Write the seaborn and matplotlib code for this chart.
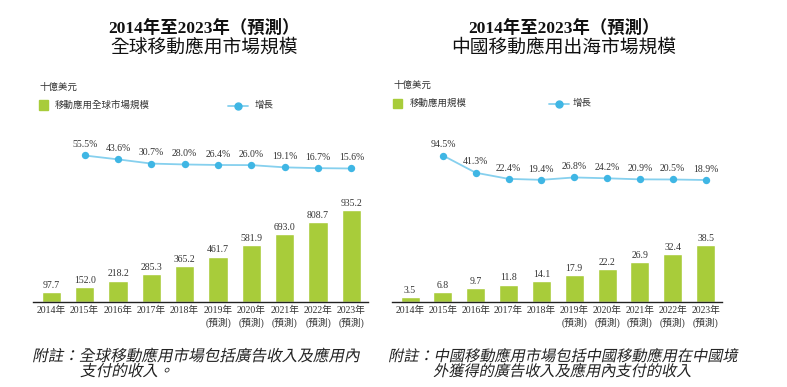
import matplotlib
matplotlib.use("Agg")
import matplotlib.pyplot as plt
import matplotlib.transforms as mtrans
import seaborn as sns
import pandas as pd
from matplotlib.textpath import TextPath
from matplotlib.patches import PathPatch
from matplotlib.font_manager import FontProperties

sns.set_style("white")
plt.rcParams['font.family'] = ['Liberation Serif', 'Noto Sans CJK TC']
plt.rcParams['axes.unicode_minus'] = False

# data
years = [2014, 2015, 2016, 2017, 2018, 2019, 2020, 2021, 2022, 2023]
year_labels = ["2014年", "2015年", "2016年", "2017年", "2018年",
               "2019年\n(預測)", "2020年\n(預測)", "2021年\n(預測)",
               "2022年\n(預測)", "2023年\n(預測)"]

global_size = [97.7, 152.0, 218.2, 285.3, 365.2, 461.7, 581.9, 693.0, 808.7, 935.2]
global_growth = [55.5, 43.6, 30.7, 28.0, 26.4, 26.0, 19.1, 16.7, 15.6]

china_size = [3.5, 6.8, 9.7, 11.8, 14.1, 17.9, 22.2, 26.9, 32.4, 38.5]
china_growth = [94.5, 41.3, 22.4, 19.4, 26.8, 24.2, 20.9, 20.5, 18.9]

titles = [("2014年至2023年（預測）", "全球移動應用市場規模"),
          ("2014年至2023年（預測）", "中國移動應用出海市場規模")]
unit = "十億美元"
bar_names = ["移動應用全球市場規模", "移動應用規模"]
line_name = "增長"
notes = [("附註：全球移動應用市場包括廣告收入及應用內", "支付的收入。"),
         ("附註：中國移動應用市場包括中國移動應用在中國境", "外獲得的廣告收入及應用內支付的收入")]

GREEN = "#a8cc3a"
BLUE = "#3fb6e4"
LBLUE = "#86d0ee"
TXT = "#333333"

W, H = 787, 387
fig = plt.figure(figsize=(W / 100, H / 100), dpi=100)


def px(x, y):
    return x / W, 1 - y / H


def box(x0, x1, ytop, ybot):
    return [x0 / W, 1 - ybot / H, (x1 - x0) / W, (ybot - ytop) / H]


def slanted(x, y, s, size_px):
    # footnotes are set in a slanted CJK face; fake it with a skewed text path
    tp = TextPath((0, 0), s, size=size_px, prop=FontProperties(family='Noto Sans CJK TC'))
    t = mtrans.Affine2D().skew_deg(12, 0).translate(x, H - y)
    fig.add_artist(PathPatch(tp, transform=t, facecolor="#222222", lw=0))


panels = [
    dict(size=global_size, growth=global_growth, x0=33, x1=368, bar_top=210,
         ymax=935.2, line_box=(140, 180), line_pts=(55.5, 155.5, 15.6, 168.5),
         cx=204, ux=39, uy=87, leg_y=105, leg_tx=55, line_lx=238, line_tx=255),
    dict(size=china_size, growth=china_growth, x0=392, x1=722, bar_top=245,
         ymax=38.5, line_box=(140, 190), line_pts=(94.5, 155.5, 18.9, 180),
         cx=564, ux=393, uy=85, leg_y=103.5, leg_tx=410, line_lx=559, line_tx=573),
]

for i, p in enumerate(panels):
    base = 302
    # bars: ylim chosen so tallest bar reaches its pixel height
    span = base - p['bar_top']
    ax = fig.add_axes(box(p['x0'], p['x1'], base - span * 1.08, base))
    df = pd.DataFrame({"year": years, "value": p['size']})
    sns.barplot(data=df, x="year", y="value", native_scale=True, color=GREEN,
                width=0.58, saturation=1, ax=ax)
    ax.set_ylim(0, p['ymax'] * 1.08)
    ax.set_xlim(years[0] - 0.55, years[-1] + 0.5)
    ax.bar_label(ax.containers[0], fmt="%.1f", padding=1.5, fontsize=7, color=TXT)
    ax.set_xticks(years)
    ax.set_xticklabels(year_labels, fontsize=7, color=TXT, linespacing=1.25)
    ax.tick_params(axis='x', length=0, pad=3)
    ax.set_yticks([])
    ax.set_xlabel("")
    ax.set_ylabel("")
    for s in ["top", "right", "left"]:
        ax.spines[s].set_visible(False)
    ax.spines["bottom"].set_color("#222222")
    ax.spines["bottom"].set_linewidth(1.0)
    ax.patch.set_alpha(0)

    # growth line on its own axes
    ytop, ybot = p['line_box']
    v1, y1, v2, y2 = p['line_pts']
    per_px = (v1 - v2) / (y2 - y1)
    lo = v2 - (ybot - y2) * per_px
    hi = lo + (ybot - ytop) * per_px
    lax = fig.add_axes(box(p['x0'], p['x1'], ytop, ybot))
    gdf = pd.DataFrame({"year": years[1:], "growth": p['growth']})
    sns.lineplot(data=gdf, x="year", y="growth", ax=lax, color=LBLUE, linewidth=1.3)
    lax.scatter(gdf["year"], gdf["growth"], s=28, color=BLUE, zorder=3, linewidths=0)
    for yr, g in zip(gdf["year"], gdf["growth"]):
        lax.annotate(f"{g:.1f}%", (yr, g), xytext=(0, 4.5), textcoords="offset points",
                     ha="center", va="bottom", fontsize=7, color=TXT)
    lax.set_xlim(years[0] - 0.55, years[-1] + 0.5)
    lax.set_ylim(lo, hi)
    lax.axis("off")

    # titles
    fig.text(*px(p['cx'], 28), titles[i][0], ha="center", va="center",
             fontsize=12.5, fontweight="bold", color="#111111")
    fig.text(*px(p['cx'], 47), titles[i][1], ha="center", va="center",
             fontsize=13.5, color="#111111",
             family=['Noto Sans CJK TC'])

    # unit and legend
    fig.text(*px(p['ux'], p['uy']), unit, ha="left", va="center", fontsize=6.8, color=TXT)
    fig.patches.append(plt.Rectangle(px(p['ux'], p['leg_y'] + 4.5), 9 / W, 9 / H,
                                     transform=fig.transFigure, color=GREEN, figure=fig))
    fig.text(*px(p['leg_tx'], p['leg_y']), bar_names[i], ha="left", va="center",
             fontsize=6.8, color=TXT)
    lx, ly = px(p['line_lx'], p['leg_y'] + 0.5)
    fig.lines.append(plt.Line2D([lx - 10 / W, lx + 10 / W], [ly, ly], transform=fig.transFigure,
                                color=LBLUE, linewidth=1.3, figure=fig))
    fig.lines.append(plt.Line2D([lx], [ly], transform=fig.transFigure, marker="o",
                                markersize=5, color=BLUE, linestyle="none", figure=fig))
    fig.text(*px(p['line_tx'], p['leg_y']), line_name, ha="left", va="center",
             fontsize=6.8, color=TXT)

# footnotes
slanted(32, 361, notes[0][0], 15.6)
slanted(80, 376, notes[0][1], 15.6)
slanted(388, 361, notes[1][0], 15.2)
slanted(433, 376, notes[1][1], 15.2)

fig.savefig("out.png", dpi=100)
